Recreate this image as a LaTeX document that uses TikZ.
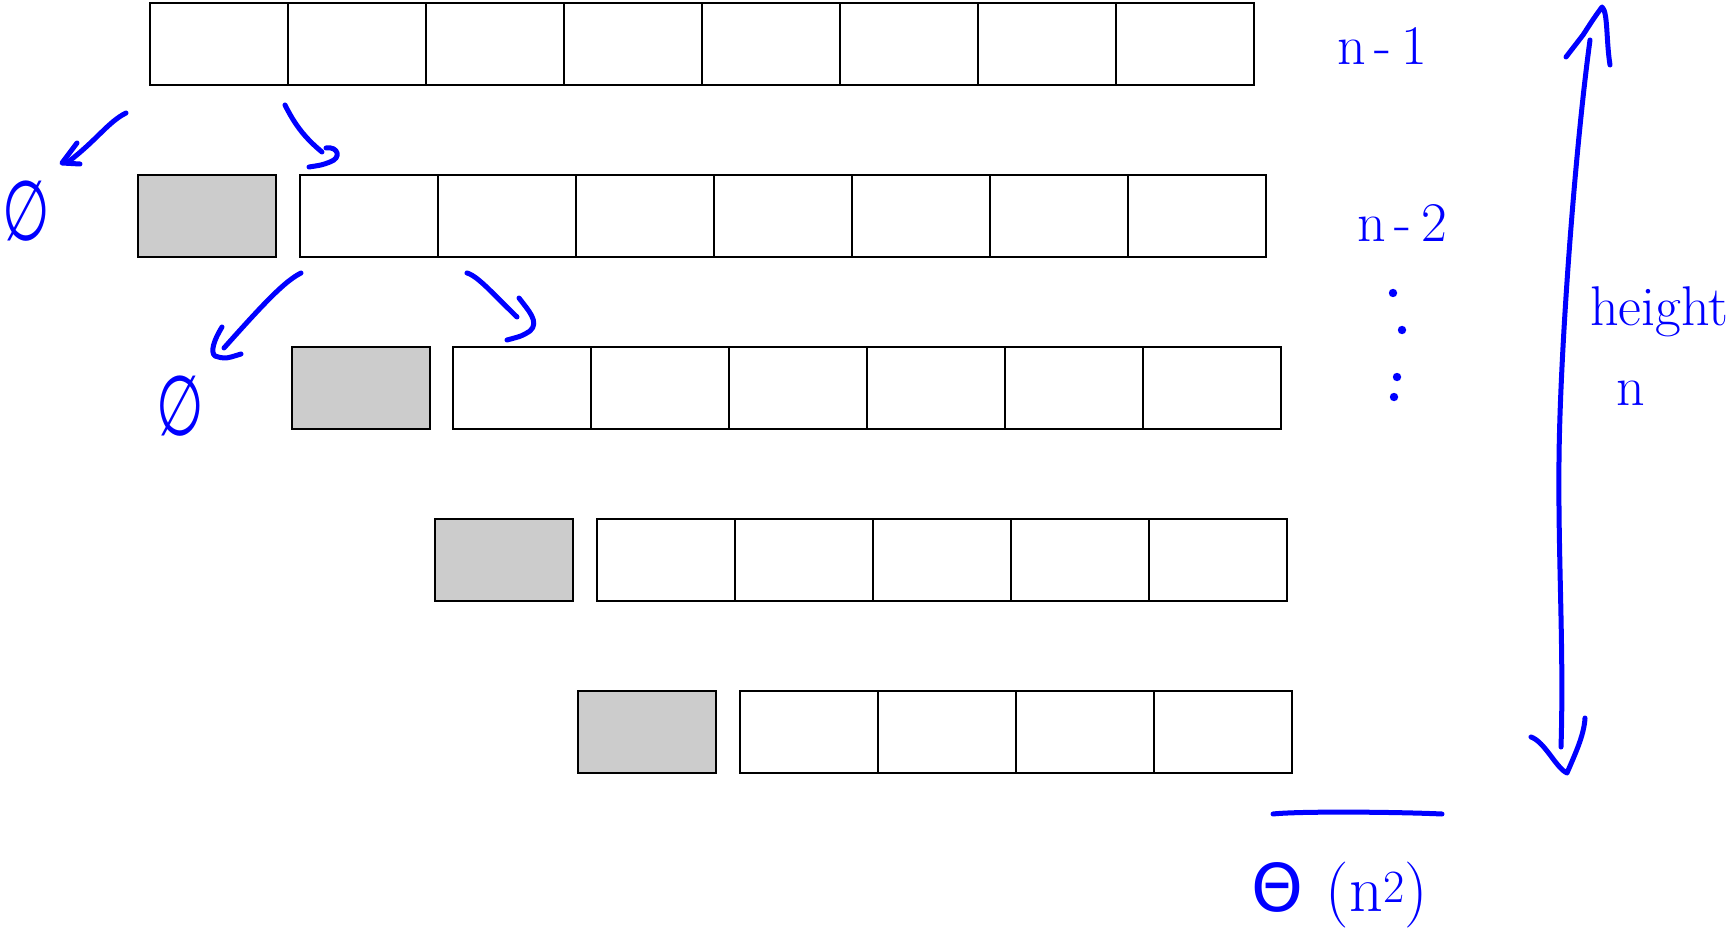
\documentclass[tikz,border=0pt]{standalone}
\usepackage{fontspec}
\newfontfamily\symfont{DejaVu Sans}
\definecolor{pen}{RGB}{0,0,255}
\definecolor{cellgray}{RGB}{204,204,204}
\tikzset{
  cell/.style={draw=black, line width=2pt, fill=white, minimum width=138pt, minimum height=82pt, inner sep=0pt, outer sep=0pt},
  graycell/.style={cell, fill=cellgray},
  ink/.style={draw=pen, line width=5pt, line cap=round, line join=round},
  inktext/.style={text=pen, inner sep=0pt, font=\fontsize{56}{64}\selectfont},
  bigtext/.style={text=pen, inner sep=0pt, font=\fontsize{84}{90}\selectfont\symfont},
}
\begin{document}
\begin{tikzpicture}[x=1pt,y=-1pt]
\useasboundingbox (0,0) rectangle (1732,933);
% white cells
\foreach \r/\y/\xs/\n in {1/44/150/8, 2/216.5/300/7, 3/388/453/6, 4/559.5/597/5, 5/731.5/740/4} {
  \foreach \j in {1,...,\n} {
    \node[cell] (r\r c\j) at ({\xs+69+138*(\j-1)}, \y) {};
  }
}
% gray cells
\foreach \r/\y/\xg in {2/216.5/138, 3/388/292, 4/559.5/435, 5/731.5/578} {
  \node[graycell] (g\r) at ({\xg+69}, \y) {};
}
% labels
\node[inktext, anchor=base] (lab1) at (1382,65) {n\,-\,1};
\node[inktext, anchor=base] (lab2) at (1402,242) {n\,-\,2};
\node[inktext, anchor=base west] (ht) at (1590,325) {height};
\node[inktext, anchor=base] (hn) at (1631,405) {n};
\node[text=pen, inner sep=0pt, font=\fontsize{66}{72}\selectfont] (theta) at (1340,895) {{\symfont Θ}\,\,(n\textsuperscript{2})};
\node[bigtext] (e1) at (26,211) {\scalebox{0.65}[1]{∅}};
\node[bigtext] (e2) at (180,406) {\scalebox{0.65}[1]{∅}};
% vertical dots
\foreach \i/\px/\py in {1/1393/293, 2/1402/330, 3/1397/377, 4/1394/397} {
  \coordinate (dot\i) at (\px,\py);
  \fill[pen] (dot\i) circle (4.2pt);
}
% arrow A: from row 1 down-left to e1
\coordinate (aS) at (126,113);
\coordinate (aE) at (68,162);
\draw[ink] (aS) .. controls (108,122) and (97,140) .. (aE);
\draw[ink] (77,143) -- (62,163) -- (80,164);
% arrow B: from row 1 down-right to r2c1
\coordinate (bS) at (285,105);
\coordinate (bE) at (322,152);
\draw[ink] (bS) .. controls (295,125) and (305,138) .. (bE);
\draw[ink] (326,148) .. controls (338,146) and (342,158) .. (330,162) .. controls (322,165) .. (309,167);
% arrow C: from row 2 down-left to e2
\coordinate (cS) at (301,273);
\coordinate (cE) at (224,348);
\draw[ink] (cS) .. controls (285,281) and (265,302) .. (cE);
\draw[ink] (222,327) .. controls (214,340) and (210,352) .. (215,356) .. controls (225,359) .. (241,354);
% arrow D: from row 2 down-right to r3c1
\coordinate (dS) at (467,273);
\coordinate (dE) at (517,317);
\draw[ink] (dS) .. controls (478,276) and (495,296) .. (dE);
\draw[ink] (519,298) .. controls (528,310) and (540,322) .. (530,331) .. controls (522,336) .. (507,340);
% big vertical double arrow
\coordinate (vT) at (1590,40);
\coordinate (vB) at (1561,747);
\draw[ink] (vT) .. controls (1575,150) and (1560,350) .. (1559,460) .. controls (1558,560) and (1564,650) .. (vB);
\draw[ink] (1566,57) -- (1583,35) .. controls (1594,18) .. (1602,7) .. controls (1608,12) and (1606,40) .. (1610,65);
\draw[ink] (1531,737) .. controls (1545,742) and (1556,768) .. (1567,773) .. controls (1576,752) and (1584,735) .. (1585,718);
% horizontal line
\coordinate (hL) at (1273,814);
\coordinate (hR) at (1442,814);
\draw[ink] (hL) .. controls (1300,811) and (1400,812) .. (hR);
\end{tikzpicture}
\end{document}
